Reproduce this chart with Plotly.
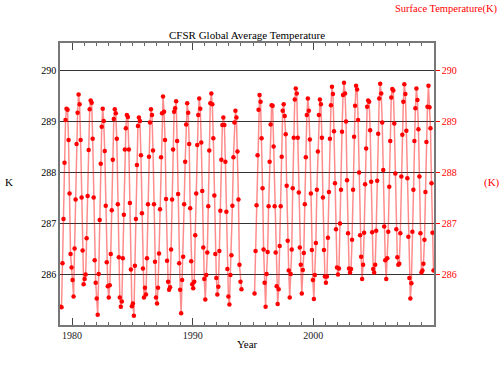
import plotly.graph_objects as go

# Monthly global average surface temperature (K), Jan..Dec
t1979 = [285.36, 285.35, 286.21, 287.08, 288.18, 289.02, 289.24, 289.22, 288.63, 287.58, 286.39, 286.13]
t1980 = [285.88, 285.56, 286.50, 287.46, 288.55, 289.16, 289.52, 289.33, 288.63, 287.50, 286.46, 285.80]
t1981 = [285.90, 285.99, 286.70, 287.53, 288.43, 289.23, 289.40, 289.36, 288.65, 287.50, 286.27, 285.83]
t1982 = [285.52, 285.20, 286.00, 287.06, 288.16, 288.89, 289.24, 289.00, 288.41, 287.34, 286.23, 285.76]
t1983 = [285.54, 285.78, 286.39, 287.25, 288.24, 289.04, 289.23, 289.15, 288.65, 287.37, 286.33, 285.54]
t1984 = [285.36, 285.46, 286.31, 287.16, 288.44, 288.86, 289.12, 289.08, 288.44, 287.39, 286.09, 285.37]
t1985 = [285.42, 285.18, 286.16, 287.08, 288.14, 288.90, 289.07, 289.00, 288.33, 287.19, 286.11, 285.54]
t1986 = [285.73, 285.60, 286.31, 287.37, 288.30, 288.97, 289.23, 289.12, 288.42, 287.37, 286.24, 285.54]
t1987 = [285.42, 285.73, 286.40, 287.27, 288.29, 289.15, 289.48, 289.18, 288.63, 287.47, 286.26, 285.85]
t1988 = [285.69, 285.74, 286.48, 287.46, 288.44, 289.18, 289.25, 289.39, 288.61, 287.57, 286.21, 285.69]
t1989 = [285.23, 285.88, 286.34, 287.37, 288.20, 288.93, 289.35, 289.16, 288.55, 287.29, 286.25, 285.80]
t1990 = [285.72, 285.85, 286.76, 287.58, 288.53, 289.12, 289.44, 289.24, 288.58, 287.63, 286.52, 285.90]
t1991 = [285.50, 285.98, 286.42, 287.33, 288.42, 289.35, 289.54, 289.33, 288.66, 287.54, 286.39, 285.92]
t1992 = [285.60, 285.75, 286.45, 287.24, 288.24, 288.92, 289.07, 288.92, 288.20, 287.22, 286.10, 285.56]
t1993 = [285.40, 285.98, 286.37, 287.34, 288.29, 288.97, 289.20, 289.07, 288.40, 287.46, 286.18, 285.85]
t1994 = [285.70, None, None, None, None, None, None, None, None, None, None, None]
t1995 = [None, 285.62, 286.45, 287.35, 288.33, 289.22, 289.51, 289.38, 288.66, 287.68, 286.48, 285.83]
t1996 = [285.36, 286.00, 286.43, 287.33, 288.20, 288.93, 289.31, 289.30, 288.50, 287.33, 286.42, 285.76]
t1997 = [285.41, 285.70, 286.55, 287.33, 288.30, 289.20, 289.33, 289.10, 288.74, 287.73, 286.65, 286.07]
t1998 = [285.54, 286.00, 286.48, 287.68, 288.67, 289.42, 289.64, 289.54, 288.67, 287.60, 286.52, 286.18]
t1999 = [285.62, 286.08, 286.41, 287.37, 288.29, 289.12, 289.44, 289.20, 288.64, 287.58, 286.47, 285.88]
t2000 = [285.51, 285.98, 286.61, 287.65, 288.40, 289.12, 289.42, 289.33, 288.67, 287.50, 286.47, 285.95]
t2001 = [285.83, 285.95, 286.71, 287.61, 288.65, 289.31, 289.67, 289.53, 288.80, 287.78, 286.88, 286.13]
t2002 = [285.99, 286.11, 286.99, 287.65, 288.79, 289.51, 289.75, 289.54, 288.99, 287.84, 286.80, 286.11]
t2003 = [286.03, 286.10, 286.67, 287.65, 288.69, 289.30, 289.69, 289.62, 289.02, 287.99, 286.76, 286.34]
t2004 = [285.90, 286.18, 286.81, 287.76, 288.46, 289.28, 289.40, 289.38, 288.82, 287.81, 286.82, 286.10]
t2005 = [286.03, 286.18, 286.85, 287.83, 288.75, 289.44, 289.73, 289.54, 288.97, 288.04, 286.93, 286.27]
t2006 = [285.90, 286.31, 286.83, 287.71, 288.61, 289.46, 289.63, 289.60, 288.95, 287.97, 286.88, 286.33]
t2007 = [286.18, 286.20, 286.80, 287.91, 288.73, 289.38, 289.72, 289.53, 288.81, 287.88, 286.73, 285.92]
t2008 = [285.52, 285.82, 286.83, 287.65, 288.61, 289.25, 289.64, 289.41, 288.84, 287.91, 286.80, 286.03]
t2009 = [286.07, 286.20, 286.67, 287.61, 288.59, 289.28, 289.69, 289.27, 288.86, 287.78, 286.81, 286.07]

years = list(range(1979, 2010))
yearly = [t1979, t1980, t1981, t1982, t1983, t1984, t1985, t1986, t1987, t1988,
          t1989, t1990, t1991, t1992, t1993, t1994, t1995, t1996, t1997, t1998,
          t1999, t2000, t2001, t2002, t2003, t2004, t2005, t2006, t2007, t2008, t2009]

x_ticks = [1980, 1990, 2000]
y_ticks = [286, 287, 288, 289, 290]

xs, ys = [], []
for yr, vals in zip(years, yearly):
    for m, v in enumerate(vals):
        xs.append(yr + (m + 0.5) / 12.0)
        ys.append(v)

FONT = "Liberation Serif, Times New Roman, serif"
YR = [285.0, 290.53]

fig = go.Figure()
# invisible copy on the left axis so that it draws its labels and grid
fig.add_trace(go.Scatter(
    x=xs, y=ys, mode="markers", yaxis="y",
    marker=dict(color="rgba(0,0,0,0)", size=1),
    showlegend=False, hoverinfo="skip",
))
fig.add_trace(go.Scatter(
    x=xs, y=ys, mode="lines+markers", yaxis="y2",
    line=dict(color="rgba(255,0,0,0.45)", width=1.5),
    marker=dict(color="#ff0000", size=4.5),
    connectgaps=False, showlegend=False, hoverinfo="x+y",
))

fig.update_layout(
    width=500, height=375,
    margin=dict(l=60, r=66, t=43, b=50),
    paper_bgcolor="white", plot_bgcolor="white",
    font=dict(family=FONT, size=10, color="black"),
    showlegend=False,
    xaxis=dict(
        range=[1979, 2010], tickvals=x_ticks, ticktext=[str(v) for v in x_ticks],
        ticks="inside", ticklen=7, tickcolor="#444", tickwidth=1,
        minor=dict(dtick=1, tick0=1979, ticks="inside", ticklen=3, tickcolor="#666", showgrid=False),
        showgrid=False, zeroline=False,
        showline=True, linecolor="#777", linewidth=1.5, mirror="ticks",
        tickfont=dict(family=FONT, size=10, color="#222"),
    ),
    yaxis=dict(
        range=YR, tickvals=y_ticks, ticktext=[str(v) for v in y_ticks],
        ticks="", showgrid=True, gridcolor="#333", gridwidth=1,
        zeroline=False, showline=True, linecolor="#777", linewidth=1.5,
        showticklabels=True,
        tickfont=dict(family=FONT, size=10, color="black"),
    ),
    yaxis2=dict(
        range=YR, tickvals=y_ticks, ticktext=[str(v) for v in y_ticks],
        overlaying="y", side="right",
        ticks="outside", ticklen=4, tickcolor="#ff0000",
        showgrid=False, zeroline=False,
        showline=True, linecolor="#777", linewidth=1.5,
        tickfont=dict(family=FONT, size=10, color="#ff0000"),
    ),
    annotations=[
        dict(text="CFSR Global Average Temperature", xref="paper", yref="paper",
             x=0.5, y=1, xanchor="center", yanchor="bottom", yshift=0, showarrow=False,
             font=dict(family=FONT, size=11, color="black")),
        dict(text="Year", xref="paper", yref="paper", x=0.5, y=0,
             xanchor="center", yanchor="top", yshift=-11, showarrow=False,
             font=dict(family=FONT, size=11, color="black")),
        dict(text="K", xref="paper", yref="paper", x=0, y=0.5,
             xanchor="left", yanchor="middle", xshift=-57, yshift=2, showarrow=False,
             font=dict(family=FONT, size=11, color="black")),
        dict(text="(K)", xref="paper", yref="paper", x=1, y=0.5,
             xanchor="left", yanchor="middle", xshift=48, yshift=2, showarrow=False,
             font=dict(family=FONT, size=11, color="#ff0000")),
        dict(text="Surface Temperature(K)", xref="paper", yref="paper", x=1, y=1,
             xanchor="right", yanchor="top", xshift=65, yshift=42, showarrow=False,
             font=dict(family=FONT, size=10.5, color="#ff0000")),
    ],
)

fig.write_html("out.html", config={"displayModeBar": False},
               post_script="document.body.style.margin='0';document.body.style.overflow='hidden';")
